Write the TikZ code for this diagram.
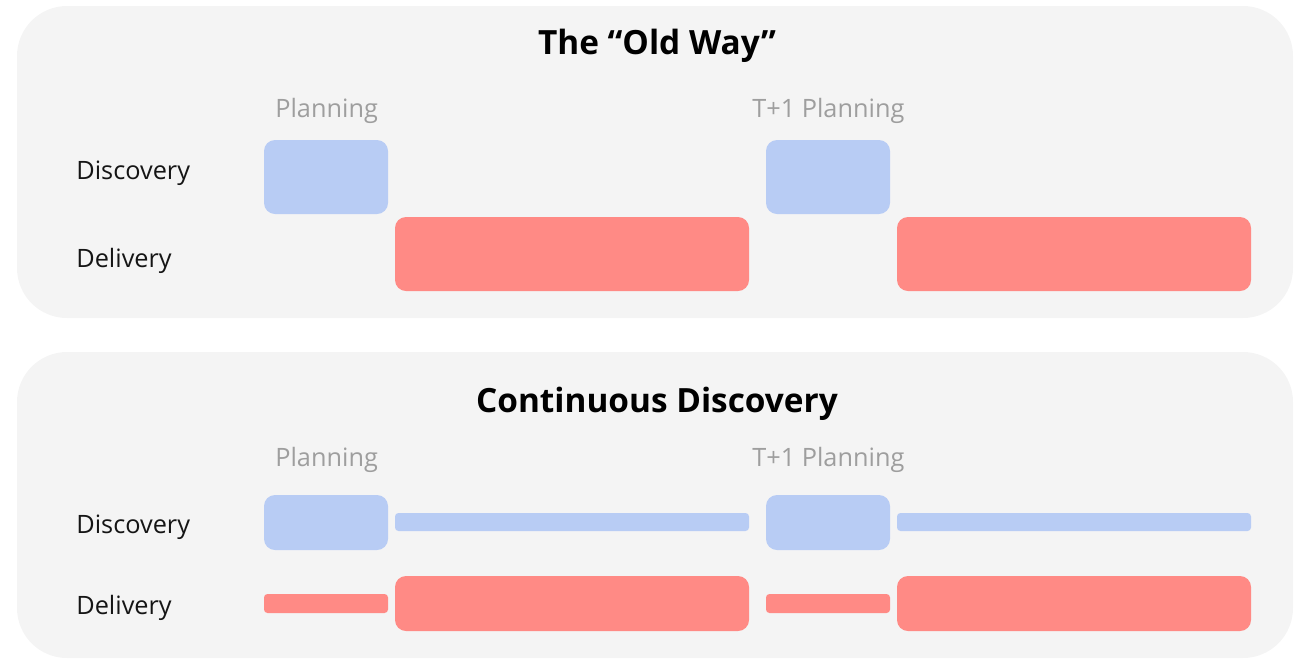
\documentclass[tikz,border=0pt]{standalone}
\usepackage{fontspec}
\setmainfont{Open Sans}
\usepackage{xcolor}
\definecolor{panelgray}{HTML}{F4F4F4}
\definecolor{discblue}{HTML}{B8CCF4}
\definecolor{delired}{HTML}{FF8A85}
\definecolor{plangray}{HTML}{9E9E9E}
\definecolor{labelink}{HTML}{151515}

\tikzset{
  panel/.style={fill=panelgray, rounded corners=1cm},
  block/.style={rounded corners=0.22cm},
  bar/.style={rounded corners=0.07cm},
  heading/.style={font=\fontsize{19pt}{21pt}\selectfont\bfseries, anchor=base, inner sep=0pt},
  rowlabel/.style={font=\fontsize{14.4pt}{16pt}\selectfont, text=labelink, anchor=base west, inner sep=0pt},
  planlabel/.style={font=\fontsize{14.4pt}{16pt}\selectfont, text=plangray, anchor=base west, inner sep=0pt},
}

\begin{document}
\begin{tikzpicture}[x=0.02cm, y=-0.02cm]
  \useasboundingbox (0,0) rectangle (1294,660);

  % ---- Old way ----
  \fill[panel] (17,6) rectangle (1293,318);
  \node[heading] (oldtitle) at (657,54) {The “Old Way”};
  \node[planlabel] (oldplan) at (275,117) {Planning};
  \node[planlabel] (oldnext) at (752,117) {T+1 Planning};
  \node[rowlabel] (olddisc) at (76,179) {Discovery};
  \node[rowlabel] (olddeli) at (76,267) {Delivery};
  \fill[discblue, block] (264,140) rectangle (388,214);
  \fill[delired, block] (395,217) rectangle (749,291);
  \fill[discblue, block] (766,140) rectangle (890,214);
  \fill[delired, block] (897,217) rectangle (1251,291);

  % ---- Continuous discovery ----
  \fill[panel] (17,352) rectangle (1293,658);
  \node[heading] (contitle) at (657,412) {Continuous Discovery};
  \node[planlabel] (conplan) at (275,466) {Planning};
  \node[planlabel] (connext) at (752,466) {T+1 Planning};
  \node[rowlabel] (condisc) at (76,533) {Discovery};
  \node[rowlabel] (condeli) at (76,614) {Delivery};
  \foreach \xa/\xb/\xc/\xd in {264/388/395/749, 766/890/897/1251} {
    \fill[discblue, block] (\xa,495) rectangle (\xb,550);
    \fill[discblue, bar] (\xc,513) rectangle (\xd,531);
    \fill[delired, bar] (\xa,594) rectangle (\xb,613);
    \fill[delired, block] (\xc,576) rectangle (\xd,631);
  }
\end{tikzpicture}
\end{document}
